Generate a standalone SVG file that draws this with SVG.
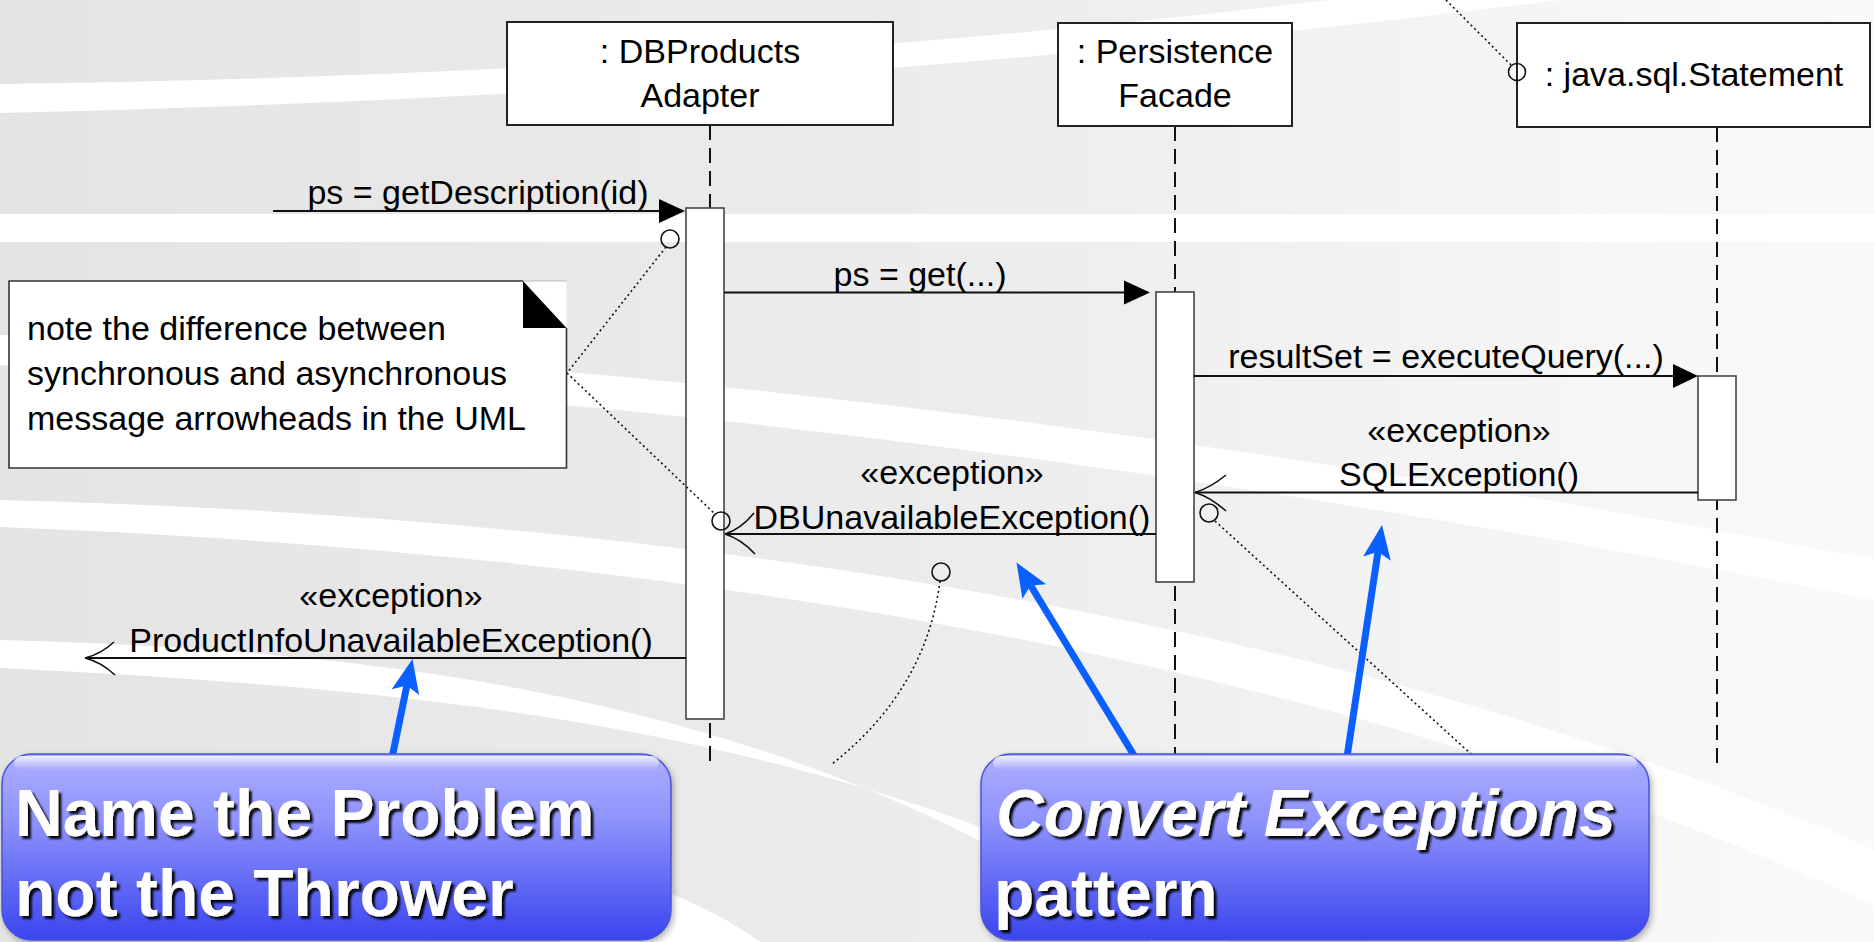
<svg xmlns="http://www.w3.org/2000/svg" width="1874" height="942" viewBox="0 0 1874 942">
<defs>
<style>
.uml{font-family:"Liberation Sans",Arial,Helvetica,sans-serif;font-size:34px;fill:#000}
.mid{text-anchor:middle}
.box{fill:#fff;stroke:#222;stroke-width:2}
.bar{fill:#fff;stroke:#444;stroke-width:1.6}
.life{stroke:#111;stroke-width:2;stroke-dasharray:15 8;fill:none}
.msg{stroke:#111;stroke-width:2;fill:none}
.head{fill:#000}
.open{stroke:#111;stroke-width:1.6;fill:none}
.dot{stroke:#111;stroke-width:1.6;stroke-dasharray:2 3;fill:none}
.circ{fill:none;stroke:#111;stroke-width:1.6}
.band{fill:#fff}
.blue{stroke:#0a5fff;stroke-width:7;fill:none}
.bluehead{fill:#0a5fff}
.call{fill:url(#callGrad);stroke:#4a52d8;stroke-width:1.5}
.ctext{font-family:"Liberation Sans",Arial,Helvetica,sans-serif;font-size:66px;font-weight:bold;fill:#fff}
</style>
<linearGradient id="bgGrad" x1="0" y1="0" x2="1" y2="0">
<stop offset="0" stop-color="#e4e4e4"/>
<stop offset="0.5" stop-color="#ececec"/>
<stop offset="1" stop-color="#fafafa"/>
</linearGradient>
<linearGradient id="callGrad" x1="0" y1="0" x2="0" y2="1">
<stop offset="0" stop-color="#acaeff"/>
<stop offset="0.35" stop-color="#8f93fc"/>
<stop offset="1" stop-color="#3a45ee"/>
</linearGradient>
<linearGradient id="gloss" x1="0" y1="0" x2="0" y2="1">
<stop offset="0" stop-color="#fff" stop-opacity="0.8"/>
<stop offset="1" stop-color="#fff" stop-opacity="0"/>
</linearGradient>
<filter id="tshadow" x="-5%" y="-30%" width="115%" height="170%">
<feGaussianBlur in="SourceAlpha" stdDeviation="1.2"/>
<feOffset dx="3" dy="3" result="o"/>
<feFlood flood-color="#000" flood-opacity="0.95"/>
<feComposite in2="o" operator="in"/>
<feMerge><feMergeNode/><feMergeNode in="SourceGraphic"/></feMerge>
</filter>
<filter id="bshadow" x="-5%" y="-10%" width="110%" height="130%">
<feDropShadow dx="2" dy="3" stdDeviation="3" flood-color="#000" flood-opacity="0.3"/>
</filter>
</defs>

<g id="background">
<rect x="0" y="0" width="1874" height="942" fill="url(#bgGrad)"/>
<path class="band" d="M0,84 Q700,75 1330,0 L1560,0 Q800,95 0,113 Z"/>
<rect class="band" x="0" y="214" width="1874" height="28"/>
<path class="band" d="M0,335 Q900,370 1874,560 L1874,600 Q900,405 0,365 Z"/>
<path class="band" d="M0,500 C600,515 1300,600 1874,850 L1874,905 C1300,640 600,550 0,527 Z"/>
<path class="band" d="M0,640 C400,650 800,700 1150,942 L1230,942 C850,730 450,690 0,668 Z"/>
<path class="band" d="M560,860 Q690,890 760,942 L560,942 Z"/>
</g>

<g id="node-dbproducts">
<line class="life" x1="710" y1="125" x2="710" y2="764"/>
<rect class="box" x="507" y="22" width="386" height="103"/>
<text class="uml mid" x="700" y="63">: DBProducts</text>
<text class="uml mid" x="700" y="107">Adapter</text>
<rect class="bar" x="686" y="208" width="38" height="511"/>
</g>

<g id="node-persistencefacade">
<line class="life" x1="1175" y1="126" x2="1175" y2="764"/>
<rect class="box" x="1058" y="23" width="234" height="103"/>
<text class="uml mid" x="1175" y="63">: Persistence</text>
<text class="uml mid" x="1175" y="107">Facade</text>
<rect class="bar" x="1156" y="292" width="38" height="290"/>
</g>

<g id="node-statement">
<line class="life" x1="1717" y1="127" x2="1717" y2="764"/>
<rect class="box" x="1517" y="23" width="353" height="104"/>
<text class="uml mid" x="1694" y="86">: java.sql.Statement</text>
<rect class="bar" x="1698" y="376" width="38" height="124"/>
</g>

<g id="node-note">
<rect x="9" y="281" width="557.5" height="187" fill="#fff"/>
<line x1="523" y1="281" x2="566.5" y2="281" stroke="#bbb" stroke-width="1"/>
<path d="M523,281 H9 V468 H566.5 V328" fill="none" stroke="#333" stroke-width="1.6"/>
<path d="M523,281 V328 H566.5 Z" fill="#000"/>
<text class="uml" x="27" y="340">note the difference between</text>
<text class="uml" x="27" y="385">synchronous and asynchronous</text>
<text class="uml" x="27" y="430">message arrowheads in the UML</text>
</g>

<g id="connectors">
<line class="msg" x1="273" y1="211" x2="662" y2="211"/>
<path class="head" d="M659,199 L685,211 L659,223 Z"/>
<text class="uml mid" x="478" y="204">ps = getDescription(id)</text>

<line class="msg" x1="724" y1="292.5" x2="1128" y2="292.5"/>
<path class="head" d="M1124,280.5 L1150,292.5 L1124,304.5 Z"/>
<text class="uml mid" x="920" y="286">ps = get(...)</text>

<line class="msg" x1="1194" y1="376" x2="1676" y2="376"/>
<path class="head" d="M1673,364 L1698,376 L1673,388 Z"/>
<text class="uml mid" x="1446" y="368">resultSet = executeQuery(...)</text>

<line class="msg" x1="1698" y1="492.5" x2="1195" y2="492.5"/>
<path class="open" d="M1195,492.5 Q1210,488 1226,475 M1195,492.5 Q1210,497 1226,511"/>
<text class="uml mid" x="1459" y="442">«exception»</text>
<text class="uml mid" x="1459" y="486">SQLException()</text>

<line class="msg" x1="1156" y1="534" x2="725" y2="534"/>
<path class="open" d="M725,534 Q741,529 754,513 M725,534 Q741,539 755,554"/>
<text class="uml mid" x="952" y="484">«exception»</text>
<text class="uml mid" x="952" y="529">DBUnavailableException()</text>

<line class="msg" x1="686" y1="658" x2="85" y2="658"/>
<path class="open" d="M85,658 Q101,654 114,642 M85,658 Q101,662 115,675"/>
<text class="uml mid" x="391" y="607">«exception»</text>
<text class="uml mid" x="391" y="652">ProductInfoUnavailableException()</text>

<circle class="circ" cx="670" cy="239" r="9"/>
<line class="dot" x1="666" y1="247" x2="567" y2="373"/>
<line class="dot" x1="567" y1="373" x2="715" y2="514"/>
<circle class="circ" cx="721" cy="521" r="9"/>
<circle class="circ" cx="1517" cy="72" r="8.5"/>
<line class="dot" x1="1446" y1="0" x2="1511" y2="65"/>
<circle class="circ" cx="1209" cy="513" r="9"/>
<line class="dot" x1="1215" y1="521" x2="1482" y2="764"/>
<circle class="circ" cx="941" cy="572" r="9"/>
<path class="dot" d="M940,581 Q926,690 832,764"/>

<line class="blue" x1="392" y1="758" x2="407.3" y2="683.4"/>
<path class="bluehead" d="M412.5,659 L419.1,695.1 L406.9,685.4 L391.7,689.3 Z"/>
<line class="blue" x1="1135" y1="757" x2="1029.6" y2="583.8"/>
<path class="bluehead" d="M1016.5,562.5 L1046.2,584.2 L1030.6,585.5 L1022.4,598.8 Z"/>
<line class="blue" x1="1347" y1="757" x2="1378.3" y2="549.7"/>
<path class="bluehead" d="M1382,525 L1390.8,560.7 L1378,551.7 L1363.1,556.5 Z"/>
</g>

<g id="callout-name-problem" filter="url(#bshadow)">
<rect class="call" x="2" y="754" width="669" height="186" rx="30" ry="30"/>
<rect x="14" y="756" width="645" height="14" rx="7" fill="url(#gloss)"/>
</g>
<g id="callout-name-problem-text" filter="url(#tshadow)">
<text class="ctext" x="15" y="836">Name the Problem</text>
<text class="ctext" x="15" y="916">not the Thrower</text>
</g>

<g id="callout-convert" filter="url(#bshadow)">
<rect class="call" x="981" y="754" width="668" height="186" rx="30" ry="30"/>
<rect x="993" y="756" width="644" height="14" rx="7" fill="url(#gloss)"/>
</g>
<g id="callout-convert-text" filter="url(#tshadow)">
<text class="ctext" x="996" y="836" font-style="italic">Convert Exceptions</text>
<text class="ctext" x="994" y="916">pattern</text>
</g>
</svg>
